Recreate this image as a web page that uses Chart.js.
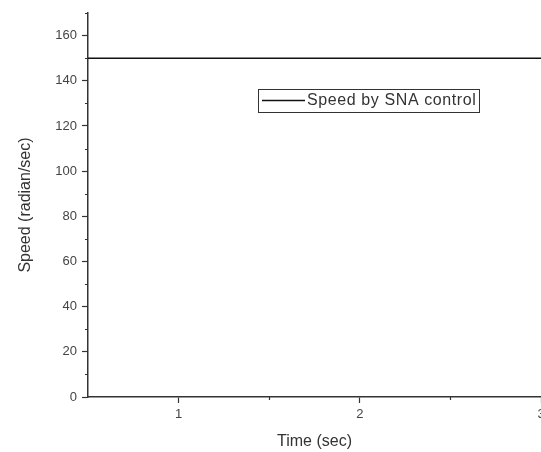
<!DOCTYPE html>
<html>
<head>
<meta charset="utf-8">
<script src="https://cdn.jsdelivr.net/npm/chart.js@4"></script>
<style>
  html, body { margin: 0; padding: 0; background: #fff; overflow: hidden; }
  canvas { display: block; }
</style>
</head>
<body>
<canvas id="speedChart" width="541" height="452"></canvas>
<script>
// speed trace (sec, rad/sec)
const timeSec = [0.5, 3];
const speedRad = [150, 150];
const seriesLabel = 'Speed by SNA control';

// axis ticks
const xMajor = [1, 2, 3];
const xMinor = [1.5, 2.5];
const yMajor = [0, 20, 40, 60, 80, 100, 120, 140, 160];
const yMinor = [10, 30, 50, 70, 90, 110, 130, 150, 170];

const axisColor = '#333';
const textColor = '#444';
const fontFamily = '"Liberation Sans", Arial, sans-serif';

// short minor ticks, pointing outward
const minorTicks = {
  id: 'minorTicks',
  afterDraw(chart) {
    const { ctx, scales: { x, y }, chartArea } = chart;
    ctx.save();
    ctx.strokeStyle = axisColor;
    ctx.lineWidth = 1.2;
    ctx.beginPath();
    xMinor.forEach(v => {
      const px = Math.round(x.getPixelForValue(v)) + 0.5;
      ctx.moveTo(px, chartArea.bottom);
      ctx.lineTo(px, chartArea.bottom + 3);
    });
    yMinor.forEach(v => {
      const py = Math.round(y.getPixelForValue(v)) + 0.5;
      ctx.moveTo(chartArea.left, py);
      ctx.lineTo(chartArea.left - 3, py);
    });
    ctx.stroke();
    ctx.restore();
  }
};

// boxed legend inside the plot
const boxLegend = {
  id: 'boxLegend',
  afterDraw(chart) {
    const { ctx } = chart;
    const ds = chart.data.datasets[0];
    ctx.save();
    ctx.strokeStyle = axisColor;
    ctx.lineWidth = 1;
    ctx.strokeRect(258.5, 89.5, 221, 23);
    ctx.strokeStyle = ds.borderColor;
    ctx.lineWidth = 1.5;
    ctx.beginPath();
    ctx.moveTo(262, 100.5);
    ctx.lineTo(305, 100.5);
    ctx.stroke();
    ctx.fillStyle = axisColor;
    ctx.font = '16px ' + fontFamily;
    ctx.letterSpacing = '0.6px';
    ctx.textBaseline = 'middle';
    ctx.fillText(ds.label, 307, 101);
    ctx.restore();
  }
};

new Chart(document.getElementById('speedChart'), {
  type: 'line',
  data: {
    datasets: [{
      label: seriesLabel,
      data: timeSec.map((t, i) => ({ x: t, y: speedRad[i] })),
      borderColor: '#111',
      borderWidth: 1.5,
      pointRadius: 0,
      fill: false
    }]
  },
  options: {
    responsive: false,
    animation: false,
    devicePixelRatio: 1,
    layout: { autoPadding: false, padding: { top: 13, right: 0, bottom: 0, left: 0 } },
    plugins: { legend: { display: false }, tooltip: { enabled: false } },
    scales: {
      x: {
        type: 'linear',
        min: 0.5,
        max: 3,
        afterBuildTicks: s => { s.ticks = xMajor.map(v => ({ value: v })); },
        afterFit: s => { s.height = 55; s.paddingLeft = 0; s.paddingRight = 0; },
        grid: { drawOnChartArea: false, drawTicks: true, tickLength: 6, tickColor: axisColor, tickWidth: 1.2 },
        border: { color: axisColor, width: 1.5 },
        ticks: { color: textColor, padding: 4, maxRotation: 0, font: { family: fontFamily, size: 13 } },
        title: { display: true, text: 'Time (sec)', color: axisColor, padding: { top: 0, bottom: 1 }, font: { family: fontFamily, size: 16 } }
      },
      y: {
        min: 0,
        max: 170,
        afterBuildTicks: s => { s.ticks = yMajor.map(v => ({ value: v })); },
        afterFit: s => { s.width = 88; s.paddingTop = 0; s.paddingBottom = 0; },
        grid: { drawOnChartArea: false, drawTicks: true, tickLength: 6, tickColor: axisColor, tickWidth: 1.2 },
        border: { color: axisColor, width: 1.5 },
        ticks: { color: textColor, padding: 5, font: { family: fontFamily, size: 13 } },
        title: { display: true, text: 'Speed (radian/sec)', color: axisColor, padding: { top: 16, bottom: 0 }, font: { family: fontFamily, size: 16 } }
      }
    }
  },
  plugins: [minorTicks, boxLegend]
});
</script>
</body>
</html>
